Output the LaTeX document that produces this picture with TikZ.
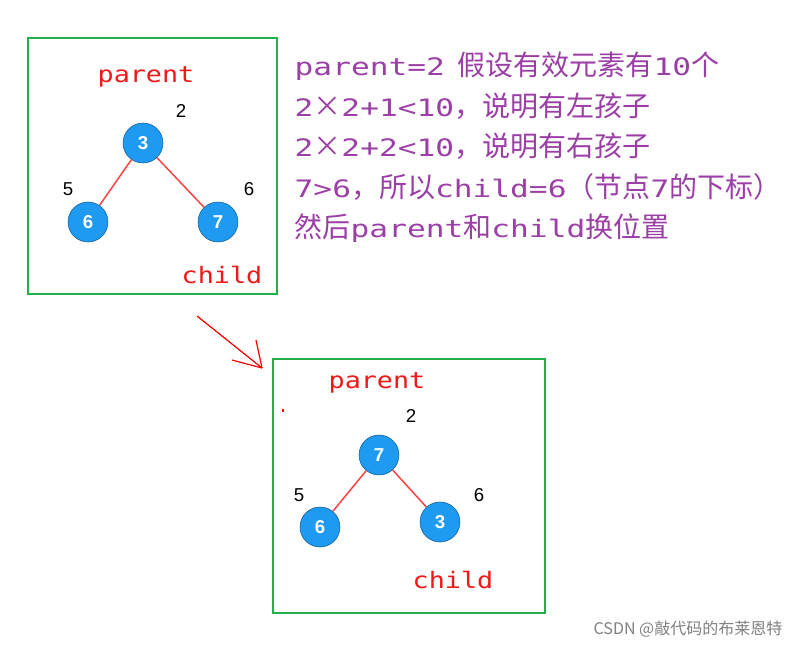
\documentclass[tikz,border=0pt]{standalone}
\usepackage{fontspec}
\setmainfont{Liberation Sans}
\newfontfamily\cjk{Noto Sans CJK SC}
\newfontfamily\mono[FakeStretch=1.18]{DejaVu Sans Mono}
\newfontfamily\monow[FakeStretch=1.3]{DejaVu Sans Mono}
\definecolor{gbox}{HTML}{22B04A}
\definecolor{nblue}{HTML}{1E9BF0}
\definecolor{purp}{HTML}{9B3FA6}
\definecolor{redt}{HTML}{F01818}
\newcommand{\lat}[1]{{\monow\fontsize{18}{18}\selectfont #1}}
\begin{document}
\begin{tikzpicture}[x=0.75pt,y=-0.75pt,
  box/.style={draw=gbox,line width=1.6pt},
  hn/.style={circle,fill=nblue,draw=nblue!60!black,line width=0.4pt,minimum size=30pt,inner sep=0pt,text=white,font=\bfseries\fontsize{14}{14}\selectfont},
  edge/.style={draw=red!75,line width=1.1pt},
  idx/.style={font=\fontsize{14}{14}\selectfont},
  lab/.style={text=redt,font=\mono\fontsize{17}{17}\selectfont},
  ptxt/.style={text=purp,anchor=west,font=\cjk\fontsize{21}{21}\selectfont}]
\useasboundingbox (0,0) rectangle (808,647);
\fill[white] (0,0) rectangle (808,647);
% box 1
\draw[box] (28,38) rectangle (277,294);
\node[lab] (p1) at (146,77) {parent};
\node[idx] (i1) at (181,111) {2};
\node[hn] (a3) at (143,143) {3};
\node[hn] (a6) at (88,222) {6};
\node[hn] (a7) at (218,222) {7};
\draw[edge] (a3) -- (a6);
\draw[edge] (a3) -- (a7);
\node[idx] (i2) at (68,189) {5};
\node[idx] (i3) at (249,189) {6};
\node[lab] (c1) at (222,275) {child};
% text
\node[ptxt] (t1) at (290,66) {\lat{parent=2}\ \ 假设有效元素有\lat{10}个};
\node[ptxt] (t2) at (290,106) {\lat{2}×\lat{2+1<10}，说明有左孩子};
\node[ptxt] (t3) at (290,146) {\lat{2}×\lat{2+2<10}，说明有右孩子};
\node[ptxt] (t4) at (290,187) {\lat{7>6}，所以\lat{child=6}（节点\lat{7}的下标）};
\node[ptxt] (t5) at (290,228) {然后\lat{parent}和\lat{child}换位置};
% arrow
\coordinate (s) at (197,316);
\coordinate (e) at (262,368);
\draw[red,line width=0.9pt] (s) -- (e);
\draw[red,line width=0.9pt] (e) -- (232,360);
\draw[red,line width=0.9pt] (e) -- (256,340);
% box 2
\draw[box] (273,359) rectangle (545,613);
\node[lab] (p2) at (377,383) {parent};
\node[idx] (j1) at (411,416) {2};
\node[hn] (b7) at (379,455) {7};
\node[hn] (b6) at (320,527) {6};
\node[hn] (b3) at (440,522) {3};
\draw[edge] (b7) -- (b6);
\draw[edge] (b7) -- (b3);
\node[idx] (j2) at (299,495) {5};
\node[idx] (j3) at (479,495) {6};
\node[lab] (c2) at (453,580) {child};
\fill[red] (282,409) rectangle (284,412);
\node[text=gray,font=\cjk\fontsize{12}{12}\selectfont] (wm) at (688,629) {CSDN @敲代码的布莱恩特};
\end{tikzpicture}
\end{document}
